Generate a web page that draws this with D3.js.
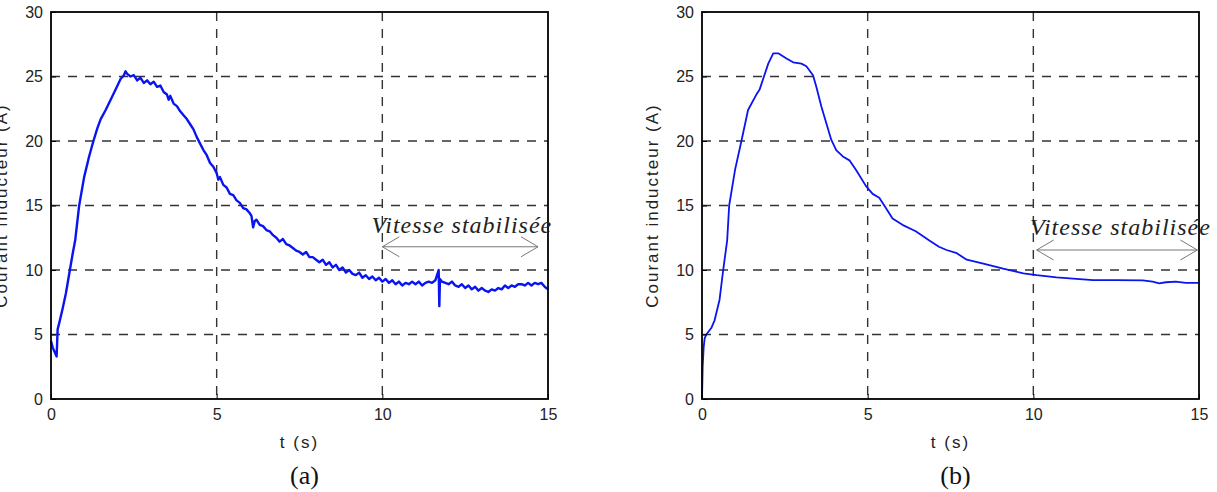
<!DOCTYPE html>
<html>
<head>
<meta charset="utf-8">
<script src="https://cdn.jsdelivr.net/npm/d3@7.9.0/dist/d3.min.js"></script>
<style>
  body { margin: 0; background: #fff; }
  svg { display: block; }
  .tick-label { font-family: "Liberation Sans", Arial, sans-serif; font-size: 16px; fill: #222; }
  .axis-label { font-family: "Liberation Sans", Arial, sans-serif; font-size: 17px; letter-spacing: 2px; fill: #222; }
  .panel-label { font-family: "Liberation Serif", "Times New Roman", serif; font-size: 26px; fill: #111; }
  .note { font-family: "Liberation Serif", "Times New Roman", serif; font-style: italic; font-size: 24px; letter-spacing: 1px; fill: #222; }
</style>
</head>
<body>
<svg id="chart" width="1217" height="492"></svg>
<script>
// ticks
const xTicks = [0, 5, 10, 15];
const yTicks = [0, 5, 10, 15, 20, 25, 30];

// (a) measured field current - noisy
const tA = [0, 0.05, 0.1, 0.17, 0.2, 0.25, 0.35, 0.45, 0.57, 0.65, 0.73, 0.85, 1.0, 1.15, 1.28, 1.4, 1.5, 1.65, 1.8, 1.95,
  2.1, 2.2, 2.25, 2.3, 2.4, 2.5, 2.6, 2.7, 2.8, 2.9, 3.0, 3.1, 3.2, 3.3, 3.4, 3.5, 3.55, 3.6, 3.7, 3.8, 3.9, 4.0,
  4.1, 4.2, 4.3, 4.4, 4.5, 4.6, 4.7, 4.8, 4.9, 5.0, 5.05, 5.1, 5.2, 5.3, 5.4, 5.5, 5.6, 5.7, 5.8, 5.9, 6.0, 6.05,
  6.1, 6.15, 6.2, 6.3, 6.4, 6.5, 6.6, 6.7, 6.8, 6.9, 7.0, 7.1, 7.2, 7.3, 7.4, 7.5, 7.6, 7.7, 7.8, 7.9, 8.0, 8.1,
  8.2, 8.3, 8.4, 8.5, 8.6, 8.7, 8.8, 8.9, 9.0, 9.1, 9.2, 9.3, 9.4, 9.5, 9.6, 9.7, 9.8, 9.9, 10.0, 10.1, 10.2, 10.3,
  10.4, 10.5, 10.6, 10.7, 10.8, 10.9, 11.0, 11.1, 11.2, 11.3, 11.4, 11.5, 11.6, 11.7, 11.72, 11.74, 11.8, 11.9,
  12.0, 12.1, 12.2, 12.3, 12.4, 12.5, 12.6, 12.7, 12.8, 12.9, 13.0, 13.1, 13.2, 13.3, 13.4, 13.5, 13.6, 13.7, 13.8,
  13.9, 14.0, 14.1, 14.2, 14.3, 14.4, 14.5, 14.6, 14.7, 14.8, 14.9, 15.0];
const iA = [4.5, 4.0, 3.7, 3.3, 5.4, 5.9, 7.0, 8.2, 10.0, 11.2, 12.3, 15.0, 17.2, 18.8, 20.0, 21.0, 21.7, 22.4, 23.2, 24.0,
  24.8, 25.1, 25.4, 25.2, 25.0, 25.1, 24.7, 24.9, 24.5, 24.7, 24.4, 24.6, 24.2, 24.3, 23.8, 23.6, 23.2, 23.5, 22.9, 22.7, 22.3, 22.0,
  21.7, 21.3, 20.9, 20.3, 19.8, 19.3, 18.9, 18.3, 18.0, 17.5, 17.0, 17.2, 16.6, 16.4, 15.9, 15.8, 15.4, 15.2, 14.8, 14.7, 14.4, 14.2,
  13.3, 13.8, 13.9, 13.5, 13.4, 13.1, 13.0, 12.7, 12.5, 12.2, 12.4, 12.0, 11.9, 11.7, 11.5, 11.4, 11.2, 11.4, 11.0, 11.0, 10.8, 10.6,
  10.8, 10.4, 10.6, 10.2, 10.4, 10.0, 10.2, 9.8, 10.0, 9.7, 9.6, 9.8, 9.4, 9.6, 9.3, 9.5, 9.2, 9.4, 9.1, 9.3, 9.0, 9.2,
  8.9, 9.1, 8.8, 9.0, 8.9, 9.1, 8.9, 9.1, 8.8, 9.0, 9.1, 9.0, 9.2, 10.0, 7.2, 9.3, 9.1, 9.0,
  8.9, 9.1, 8.8, 8.7, 8.9, 8.6, 8.8, 8.5, 8.7, 8.4, 8.6, 8.4, 8.3, 8.5, 8.4, 8.6, 8.5, 8.8, 8.6,
  8.8, 8.7, 8.9, 8.9, 8.8, 9.0, 8.8, 9.0, 8.9, 9.0, 8.7, 8.5];

// (b) simulated field current - smooth
const tB = [0, 0.02, 0.05, 0.08, 0.13, 0.28, 0.38, 0.53, 0.64, 0.76, 0.82, 1.0, 1.19, 1.39, 1.64, 1.74, 1.87, 2.0, 2.15, 2.3,
  2.55, 2.75, 3.0, 3.15, 3.35, 3.45, 3.6, 3.75, 3.9, 4.05, 4.25, 4.45, 4.65, 4.95, 5.15, 5.35, 5.55, 5.75, 6.05, 6.45,
  6.85, 7.15, 7.38, 7.69, 7.99, 8.49, 9.09, 9.7, 10.1, 10.7, 11.2, 11.8, 12.5, 13.3, 13.6, 13.8, 14.0, 14.3, 14.6, 15.0];
const iB = [0, 2.5, 4.0, 4.7, 5.0, 5.5, 6.1, 7.7, 10.0, 12.3, 15.0, 17.8, 20.0, 22.4, 23.6, 24.0, 25.0, 26.0, 26.8, 26.8,
  26.4, 26.1, 26.0, 25.8, 25.1, 24.2, 22.7, 21.4, 20.1, 19.3, 18.8, 18.5, 17.75, 16.5, 15.9, 15.6, 14.8, 14.0, 13.5, 13.0,
  12.3, 11.8, 11.55, 11.3, 10.8, 10.5, 10.1, 9.74, 9.6, 9.43, 9.33, 9.22, 9.22, 9.2, 9.1, 8.97, 9.05, 9.1, 9.0, 9.0];

const panels = [
  { left: 51, t: tA, i: iA, label: "(a)", noteX: 9.67, noteY: 12.85, arrow: [10, 14.7, 11.8], width: 2.4 },
  { left: 702, t: tB, i: iB, label: "(b)", noteX: 9.9, noteY: 12.7, arrow: [10.1, 14.95, 11.55], width: 1.8 }
];

const svg = d3.select("#chart");
const plotW = 497, plotTop = 12, plotBottom = 399;

panels.forEach(p => {
  const x = d3.scaleLinear().domain([0, 15]).range([p.left, p.left + plotW]);
  const y = d3.scaleLinear().domain([0, 30]).range([plotBottom, plotTop]);
  const g = svg.append("g");

  // dashed grid
  g.selectAll(".gx").data(xTicks.slice(1, -1)).enter().append("line")
    .attr("x1", d => x(d)).attr("x2", d => x(d)).attr("y1", plotTop).attr("y2", plotBottom)
    .attr("stroke", "#333").attr("stroke-width", 1.4).attr("stroke-dasharray", "9,8");
  g.selectAll(".gy").data(yTicks.slice(1, -1)).enter().append("line")
    .attr("y1", d => y(d)).attr("y2", d => y(d)).attr("x1", p.left).attr("x2", p.left + plotW)
    .attr("stroke", "#333").attr("stroke-width", 1.4).attr("stroke-dasharray", "9,8");

  // curve
  const pts = p.t.map((t, k) => [t, p.i[k]]);
  g.append("path").datum(pts)
    .attr("fill", "none").attr("stroke", "#0a14f0").attr("stroke-width", p.width)
    .attr("stroke-linejoin", "round")
    .attr("d", d3.line().x(d => x(d[0])).y(d => y(d[1])));

  // axes box
  g.append("rect").attr("x", p.left).attr("y", plotTop).attr("width", plotW).attr("height", plotBottom - plotTop)
    .attr("fill", "none").attr("stroke", "#000").attr("stroke-width", 1.8);

  const xAxis = d3.axisBottom(x).tickValues(xTicks).tickSizeInner(-5).tickSizeOuter(0).tickPadding(10);
  const yAxis = d3.axisLeft(y).tickValues(yTicks).tickSizeInner(-5).tickSizeOuter(0).tickPadding(8);
  const ax = g.append("g").attr("transform", `translate(0,${plotBottom})`).call(xAxis);
  const ay = g.append("g").attr("transform", `translate(${p.left},0)`).call(yAxis);
  [ax, ay].forEach(a => {
    a.select(".domain").remove();
    a.selectAll("line").attr("stroke", "#000");
    a.selectAll("text").attr("class", "tick-label").attr("font-size", null).attr("font-family", null);
  });

  // axis labels
  g.append("text").attr("class", "axis-label").attr("text-anchor", "middle")
    .attr("x", x(7.5)).attr("y", 448).text("t (s)");
  g.append("text").attr("class", "axis-label").attr("text-anchor", "middle")
    .attr("transform", `translate(${p.left - 44},${y(15)}) rotate(-90)`).text("Courant inducteur (A)");
  g.append("text").attr("class", "panel-label").attr("text-anchor", "middle")
    .attr("x", x(7.5) + 5).attr("y", 484).text(p.label);

  // annotation
  g.append("text").attr("class", "note").attr("x", x(p.noteX)).attr("y", y(p.noteY)).text("Vitesse stabilisée");
  const [a0, a1, ay0] = p.arrow;
  const ya = y(ay0);
  const arrow = g.append("g").attr("stroke", "#777").attr("stroke-width", 1).attr("fill", "none");
  arrow.append("line").attr("x1", x(a0)).attr("x2", x(a1)).attr("y1", ya).attr("y2", ya);
  arrow.append("polyline").attr("points", `${x(a0) + 17},${ya - 10} ${x(a0)},${ya} ${x(a0) + 17},${ya + 10}`);
  arrow.append("polyline").attr("points", `${x(a1) - 17},${ya - 10} ${x(a1)},${ya} ${x(a1) - 17},${ya + 10}`);
});
</script>
</body>
</html>
